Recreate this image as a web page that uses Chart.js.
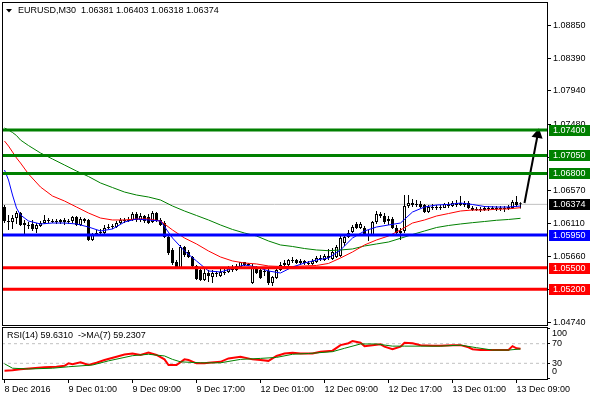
<!DOCTYPE html>
<html>
<head>
<meta charset="utf-8">
<script src="https://cdn.jsdelivr.net/npm/chart.js@4.4.0/dist/chart.umd.min.js"></script>
<style>
  html, body { margin: 0; padding: 0; background: #fff; }
  #wrap { position: relative; width: 590px; height: 400px; }
  #main { position: absolute; left: 0; top: 0; }
  #rsi { position: absolute; left: 0; top: 326px; }
</style>
</head>
<body>
<div id="wrap">
  <canvas id="main" width="590" height="327"></canvas>
  <canvas id="rsi" width="590" height="74"></canvas>
</div>
<script>
// --- DADOS (EURUSD M30) ---
const openArr = [1.06337,1.06144,1.06130,1.06185,1.06254,1.06116,1.06089,1.06103,1.06034,1.06075,
  1.06116,1.06158,1.06144,1.06130,1.06130,1.06158,1.06130,1.06144,1.06199,1.06089,
  1.06172,1.06158,1.05882,1.05951,1.05978,1.05978,1.06047,1.06061,1.06061,1.06116,
  1.06158,1.06144,1.06158,1.06241,1.06158,1.06213,1.06199,1.06130,1.06254,1.06158,
  1.06116,1.05923,1.05744,1.05578,1.05495,1.05785,1.05716,1.05647,1.05523,1.05468,
  1.05330,1.05426,1.05371,1.05426,1.05385,1.05440,1.05440,1.05495,1.05468,1.05509,
  1.05578,1.05551,1.05288,1.05495,1.05468,1.05440,1.05454,1.05288,1.05357,1.05468,
  1.05537,1.05537,1.05606,1.05606,1.05564,1.05592,1.05564,1.05551,1.05578,1.05633,
  1.05606,1.05661,1.05620,1.05647,1.05661,1.05840,1.05923,1.05992,1.06103,1.06047,
  1.06047,1.05965,1.05951,1.06130,1.06241,1.06213,1.06144,1.06172,1.06047,1.05978,
  1.06006,1.06351,1.06392,1.06365,1.06379,1.06365,1.06268,1.06337,1.06323,1.06337,
  1.06323,1.06379,1.06351,1.06392,1.06365,1.06392,1.06392,1.06323,1.06296,1.06310,
  1.06296,1.06323,1.06310,1.06323,1.06310,1.06323,1.06310,1.06323,1.06406,1.06381];
const highArr = [1.06365,1.06227,1.06227,1.06282,1.06268,1.06158,1.06130,1.06158,1.06116,1.06144,
  1.06227,1.06185,1.06172,1.06172,1.06172,1.06185,1.06172,1.06213,1.06213,1.06199,
  1.06185,1.06172,1.05978,1.06020,1.06034,1.06089,1.06103,1.06103,1.06144,1.06185,
  1.06185,1.06199,1.06268,1.06268,1.06254,1.06227,1.06241,1.06282,1.06268,1.06185,
  1.06144,1.05937,1.05771,1.05606,1.05813,1.05799,1.05744,1.05661,1.05537,1.05495,
  1.05495,1.05468,1.05468,1.05454,1.05495,1.05495,1.05523,1.05537,1.05551,1.05578,
  1.05578,1.05564,1.05551,1.05523,1.05509,1.05482,1.05482,1.05385,1.05509,1.05578,
  1.05606,1.05620,1.05647,1.05620,1.05620,1.05606,1.05592,1.05620,1.05661,1.05675,
  1.05689,1.05758,1.05771,1.05813,1.05937,1.05951,1.06020,1.06089,1.06130,1.06130,
  1.06075,1.06020,1.06144,1.06282,1.06268,1.06254,1.06213,1.06199,1.06089,1.06047,
  1.06503,1.06503,1.06448,1.06434,1.06420,1.06379,1.06365,1.06379,1.06365,1.06365,
  1.06392,1.06406,1.06420,1.06434,1.06489,1.06420,1.06420,1.06351,1.06337,1.06337,
  1.06351,1.06351,1.06351,1.06351,1.06351,1.06351,1.06365,1.06434,1.06489,1.06403];
const lowArr = [1.06116,1.06020,1.06034,1.06103,1.06075,1.05965,1.06034,1.06006,1.05978,1.06061,
  1.06103,1.06116,1.06116,1.06103,1.06103,1.06089,1.06103,1.06116,1.06075,1.06075,
  1.06116,1.05868,1.05868,1.05937,1.05951,1.05951,1.06034,1.06034,1.06047,1.06103,
  1.06116,1.06130,1.06144,1.06130,1.06130,1.06116,1.06103,1.06116,1.06130,1.06075,
  1.05909,1.05675,1.05537,1.05482,1.05482,1.05647,1.05633,1.05495,1.05330,1.05316,
  1.05316,1.05302,1.05288,1.05371,1.05371,1.05399,1.05426,1.05440,1.05454,1.05495,
  1.05523,1.05523,1.05275,1.05413,1.05344,1.05385,1.05261,1.05247,1.05344,1.05454,
  1.05523,1.05523,1.05564,1.05551,1.05537,1.05537,1.05537,1.05537,1.05564,1.05592,
  1.05592,1.05606,1.05606,1.05633,1.05647,1.05799,1.05909,1.05978,1.06034,1.06034,
  1.05937,1.05868,1.05937,1.06103,1.06185,1.06103,1.06089,1.06034,1.05951,1.05882,
  1.05978,1.06323,1.06337,1.06337,1.06323,1.06254,1.06254,1.06296,1.06296,1.06296,
  1.06323,1.06323,1.06337,1.06337,1.06351,1.06337,1.06310,1.06282,1.06282,1.06268,
  1.06282,1.06282,1.06296,1.06282,1.06282,1.06268,1.06296,1.06310,1.06337,1.06318];
const closeArr = [1.06144,1.06130,1.06185,1.06254,1.06089,1.06089,1.06075,1.06034,1.06089,1.06116,
  1.06158,1.06144,1.06130,1.06144,1.06158,1.06130,1.06144,1.06199,1.06089,1.06172,
  1.06144,1.05882,1.05951,1.05978,1.05992,1.06047,1.06061,1.06075,1.06116,1.06158,
  1.06144,1.06158,1.06241,1.06158,1.06213,1.06144,1.06116,1.06254,1.06144,1.06089,
  1.05923,1.05702,1.05564,1.05495,1.05785,1.05675,1.05647,1.05523,1.05344,1.05330,
  1.05426,1.05385,1.05426,1.05413,1.05440,1.05426,1.05495,1.05468,1.05523,1.05578,
  1.05537,1.05537,1.05495,1.05426,1.05357,1.05454,1.05288,1.05371,1.05468,1.05537,
  1.05564,1.05606,1.05592,1.05564,1.05592,1.05564,1.05551,1.05592,1.05633,1.05620,
  1.05661,1.05633,1.05716,1.05785,1.05909,1.05923,1.05978,1.06061,1.06047,1.06103,
  1.05951,1.05937,1.06130,1.06241,1.06213,1.06130,1.06172,1.06047,1.05978,1.06006,
  1.06351,1.06392,1.06365,1.06379,1.06337,1.06268,1.06337,1.06323,1.06337,1.06323,
  1.06379,1.06351,1.06392,1.06365,1.06392,1.06365,1.06323,1.06296,1.06310,1.06296,
  1.06323,1.06310,1.06323,1.06310,1.06323,1.06310,1.06337,1.06406,1.06365,1.06374];

// médias móveis (azul rápida, vermelha média, verde lenta), amostradas nas barras de maIdx
const maIdx = [0,1,2,3,4,6,9,12,15,18,21,24,27,30,33,36,39,42,45,48,51,54,57,60,63,66,69,72,75,78,81,84,87,90,93,96,99,102,105,108,111,114,117,120,123,126,129];
const maBlue = [1.06848,1.06710,1.06503,1.06323,1.06227,1.06144,1.06103,1.06116,1.06116,1.06103,1.06061,1.06006,1.06034,1.06130,1.06172,1.06158,1.06144,
  1.05909,1.05730,1.05592,1.05454,1.05440,1.05488,1.05537,1.05509,1.05454,1.05426,1.05509,1.05564,1.05606,1.05633,1.05744,1.05909,1.06006,1.06061,
  1.06089,1.06116,1.06268,1.06337,1.06365,1.06372,1.06392,1.06372,1.06344,1.06337,1.06337,1.06351];
const maRed = [1.07248,1.07179,1.07097,1.07014,1.06945,1.06793,1.06613,1.06489,1.06420,1.06337,1.06254,1.06185,1.06158,1.06158,1.06172,1.06172,1.06144,
  1.06020,1.05909,1.05827,1.05730,1.05647,1.05592,1.05564,1.05551,1.05523,1.05516,1.05516,1.05523,1.05530,1.05558,1.05633,1.05716,1.05813,1.05882,
  1.05937,1.06020,1.06116,1.06158,1.06213,1.06247,1.06282,1.06296,1.06296,1.06306,1.06312,1.06328];
const maGreen = [1.07428,1.07400,1.07366,1.07324,1.07262,1.07186,1.07083,1.07000,1.06917,1.06834,1.06758,1.06669,1.06606,1.06544,1.06503,1.06475,1.06434,
  1.06351,1.06282,1.06220,1.06158,1.06089,1.06027,1.05978,1.05937,1.05868,1.05813,1.05792,1.05764,1.05744,1.05734,1.05744,1.05758,1.05799,1.05827,
  1.05854,1.05905,1.05958,1.06006,1.06054,1.06082,1.06103,1.06121,1.06137,1.06154,1.06165,1.06181];

// linhas horizontais (suportes/resistências)
const levelValues = [1.07400, 1.07050, 1.06800, 1.05950, 1.05500, 1.05200];
const levelColors = ['#008000', '#008000', '#008000', '#0000ff', '#ff0000', '#ff0000'];

// seta de tendência
const arrowIdx = [130, 133.3];
const arrowPrice = [1.06393, 1.07338];

// escala de preços
const priceTicks = [1.08850, 1.08390, 1.07940, 1.07480, 1.07020, 1.06570, 1.06110, 1.05660, 1.05200, 1.04740];

// eixo de tempo
const timeTicks = [0, 16, 32, 48, 64, 80, 96, 112, 128];
const timeLabels = ['8 Dec 2016', '9 Dec 01:00', '9 Dec 09:00', '9 Dec 17:00', '12 Dec 01:00',
  '12 Dec 09:00', '12 Dec 17:00', '13 Dec 01:00', '13 Dec 09:00'];

// RSI(14) e MA(7)
const rsiIdx = [0,2,4,7,10,13,15,16,17,19,21,23,25,28,30,32,34,36,38,40,41,43,45,46,48,50,51,54,56,59,
  62,64,66,68,70,72,74,77,79,82,84,86,87,89,90,92,94,95,97,99,100,102,104,107,109,112,114,116,117,119,122,124,126,127,128,129];
const rsiVal = [15,16,18,20,22,23,25,30,28,32,26.5,31,36.7,43.5,48,50,47,51.7,47,38,26.5,26.5,38,36.7,30,30,31,33,40,43.5,
  38,36.7,35,45,50,51.7,50,50,53.7,55.7,67,71,75.5,72,65,67,68.8,64,58.6,64,72,71,67,66,66,67,67,62.6,58.6,57,57,57,57,65,60.6,59.6310];
const maRsiIdx = [0,2,6,12,16,22,26,32,36,40,42,44,49,54,59,64,68,72,76,82,85,89,93,97,100,104,109,114,118,122,126,129];
const maRsiVal = [29,20,18.4,20,23,26.5,35,45.5,48.4,45,38,33,31,31,38,40,42,48.4,50,53.7,60.6,69.4,69.4,65,65,65,65,67,61.8,57,57,59.2307];
const rsiLevels = [70, 30];
const rsiTicks = [100, 70, 30, 0];

// --- CONFIGURAÇÕES ---
const FONT = '"Liberation Sans", Arial, sans-serif';
Chart.defaults.font.family = FONT;
Chart.defaults.font.size = 9;
Chart.defaults.color = '#000';

const X_MIN = -0.625, X_MAX = 135.625;
const PRICE_MIN = 1.04708, PRICE_MAX = 1.09168;
const RSI_MIN = -2, RSI_MAX = 104;
const last = closeArr.length - 1;

const pts = (xs, ys) => xs.map((x, i) => ({ x, y: ys[i] }));
const hline = (v) => [{ x: X_MIN, y: v }, { x: X_MAX, y: v }];

// moldura dos painéis
const framePlugin = {
  id: 'frame',
  afterDraw(chart) {
    const a = chart.chartArea, ctx = chart.ctx;
    ctx.save();
    ctx.strokeStyle = '#000';
    ctx.lineWidth = 1;
    ctx.strokeRect(a.left + 0.5, a.top + 0.5, a.right - a.left, a.bottom - a.top);
    ctx.restore();
  }
};

// título e etiquetas coloridas na escala de preço
const mainOverlay = {
  id: 'mainOverlay',
  afterDraw(chart) {
    const ctx = chart.ctx, ys = chart.scales.y;
    ctx.save();
    ctx.font = '9px ' + FONT;
    ctx.textBaseline = 'middle';
    const tags = levelValues.map((v, i) => ({ v, c: levelColors[i] }));
    tags.push({ v: closeArr[last], c: '#000' });
    tags.forEach(t => {
      const y = Math.round(ys.getPixelForValue(t.v));
      ctx.fillStyle = t.c;
      ctx.fillRect(549, y - 5, 41, 11);
      ctx.fillStyle = '#fff';
      ctx.fillText(t.v.toFixed(5), 553, y + 0.5);
    });
    ctx.fillStyle = '#000';
    ctx.beginPath();
    ctx.moveTo(6, 9); ctx.lineTo(12, 9); ctx.lineTo(9, 12.5); ctx.closePath();
    ctx.fill();
    const ohlc = [openArr, highArr, lowArr, closeArr].map(a => a[last].toFixed(5)).join(' ');
    ctx.fillText('EURUSD,M30  ' + ohlc, 18, 11);
    ctx.restore();
  }
};

const rsiOverlay = {
  id: 'rsiOverlay',
  afterDraw(chart) {
    const ctx = chart.ctx, ys = chart.scales.y, a = chart.chartArea;
    ctx.save();
    ctx.font = '9px ' + FONT;
    ctx.textBaseline = 'middle';
    ctx.fillStyle = '#000';
    ctx.fillText('RSI(14) ' + rsiVal[rsiVal.length - 1].toFixed(4) + '  ->MA(7) ' + maRsiVal[maRsiVal.length - 1].toFixed(4), 7, 10);
    rsiTicks.forEach(v => {
      let y = ys.getPixelForValue(v);
      y = Math.min(Math.max(y, a.top + 7), a.bottom - 7);
      ctx.fillText(String(v), 552, y);
    });
    ctx.restore();
  }
};

// --- GRÁFICO PRINCIPAL ---
const wickData = closeArr.map((c, i) => ({ x: i, y: [lowArr[i], highArr[i]] }));
const bodyData = closeArr.map((c, i) => ({ x: i, y: [openArr[i], c] }));
const bodyFill = closeArr.map((c, i) => c >= openArr[i] ? '#ffffff' : '#000000');

const levelSets = levelValues.map((v, i) => ({
  type: 'line', data: hline(v), borderColor: levelColors[i], borderWidth: 3,
  pointRadius: 0, order: 0
}));

new Chart(document.getElementById('main'), {
  type: 'bar',
  data: {
    datasets: [
      ...levelSets,
      { type: 'line', data: pts(arrowIdx, arrowPrice), borderColor: '#000', backgroundColor: '#000',
        borderWidth: 2, pointRadius: [0, 4.5], pointStyle: 'triangle', pointRotation: 11, order: 0 },
      { type: 'line', data: pts(maIdx, maBlue), borderColor: '#0000ff', borderWidth: 1, pointRadius: 0, order: 1 },
      { type: 'line', data: pts(maIdx, maRed), borderColor: '#ff0000', borderWidth: 1, pointRadius: 0, order: 1 },
      { type: 'line', data: pts(maIdx, maGreen), borderColor: '#008000', borderWidth: 1, pointRadius: 0, order: 1 },
      { data: bodyData, backgroundColor: bodyFill, borderColor: '#000', borderWidth: 1, borderSkipped: false,
        barThickness: 3, minBarLength: 1, grouped: false, inflateAmount: 0, order: 2 },
      { data: wickData, backgroundColor: '#000', borderWidth: 0, barThickness: 1, grouped: false,
        inflateAmount: 0, order: 3 },
      { type: 'line', data: hline(closeArr[last]), borderColor: '#c0c0c0', borderWidth: 1, pointRadius: 0, order: 5 }
    ]
  },
  options: {
    responsive: false, animation: false, events: [],
    layout: { autoPadding: false, padding: { left: 2, top: 2, right: 0, bottom: 2 } },
    plugins: { legend: { display: false }, tooltip: { enabled: false } },
    scales: {
      x: { type: 'linear', min: X_MIN, max: X_MAX, offset: false, display: false },
      y: {
        position: 'right', min: PRICE_MIN, max: PRICE_MAX,
        afterFit: s => { s.width = 43; s.paddingTop = 0; s.paddingBottom = 0; },
        afterBuildTicks: s => { s.ticks = priceTicks.map(v => ({ value: v })); },
        ticks: { callback: v => Number(v).toFixed(5), padding: 2, color: '#000' },
        grid: { drawOnChartArea: false, drawTicks: true, tickLength: 4, color: '#000' },
        border: { display: false }
      }
    }
  },
  plugins: [framePlugin, mainOverlay]
});

// --- PAINEL RSI ---
new Chart(document.getElementById('rsi'), {
  type: 'line',
  data: {
    datasets: [
      { data: pts(maRsiIdx, maRsiVal), borderColor: '#008000', borderWidth: 1, pointRadius: 0, order: 0 },
      { data: pts(rsiIdx, rsiVal), borderColor: '#ff0000', borderWidth: 2, pointRadius: 0, order: 1 },
      ...rsiLevels.map(v => ({ data: hline(v), borderColor: '#c0c0c0', borderWidth: 1, borderDash: [3, 3],
        pointRadius: 0, order: 2 }))
    ]
  },
  options: {
    responsive: false, animation: false, events: [],
    layout: { autoPadding: false, padding: { left: 2, top: 1, right: 0, bottom: 0 } },
    plugins: { legend: { display: false }, tooltip: { enabled: false } },
    scales: {
      x: {
        type: 'linear', min: X_MIN, max: X_MAX, offset: false,
        afterFit: s => { s.height = 21; s.paddingLeft = 0; s.paddingRight = 0; },
        afterBuildTicks: s => { s.ticks = timeTicks.map(v => ({ value: v })); },
        ticks: { callback: (v, i) => timeLabels[i], align: 'start', autoSkip: false, maxRotation: 0,
          minRotation: 0, padding: 1, color: '#000' },
        grid: { drawOnChartArea: false, drawTicks: true, tickLength: 4, color: '#000' },
        border: { display: false }
      },
      y: {
        position: 'right', min: RSI_MIN, max: RSI_MAX,
        afterFit: s => { s.width = 43; s.paddingTop = 0; s.paddingBottom = 0; },
        afterBuildTicks: s => { s.ticks = rsiTicks.map(v => ({ value: v })); },
        ticks: { display: false },
        grid: { drawOnChartArea: false, drawTicks: true, tickLength: 3, color: '#000' },
        border: { display: false }
      }
    }
  },
  plugins: [framePlugin, rsiOverlay]
});
</script>
</body>
</html>
